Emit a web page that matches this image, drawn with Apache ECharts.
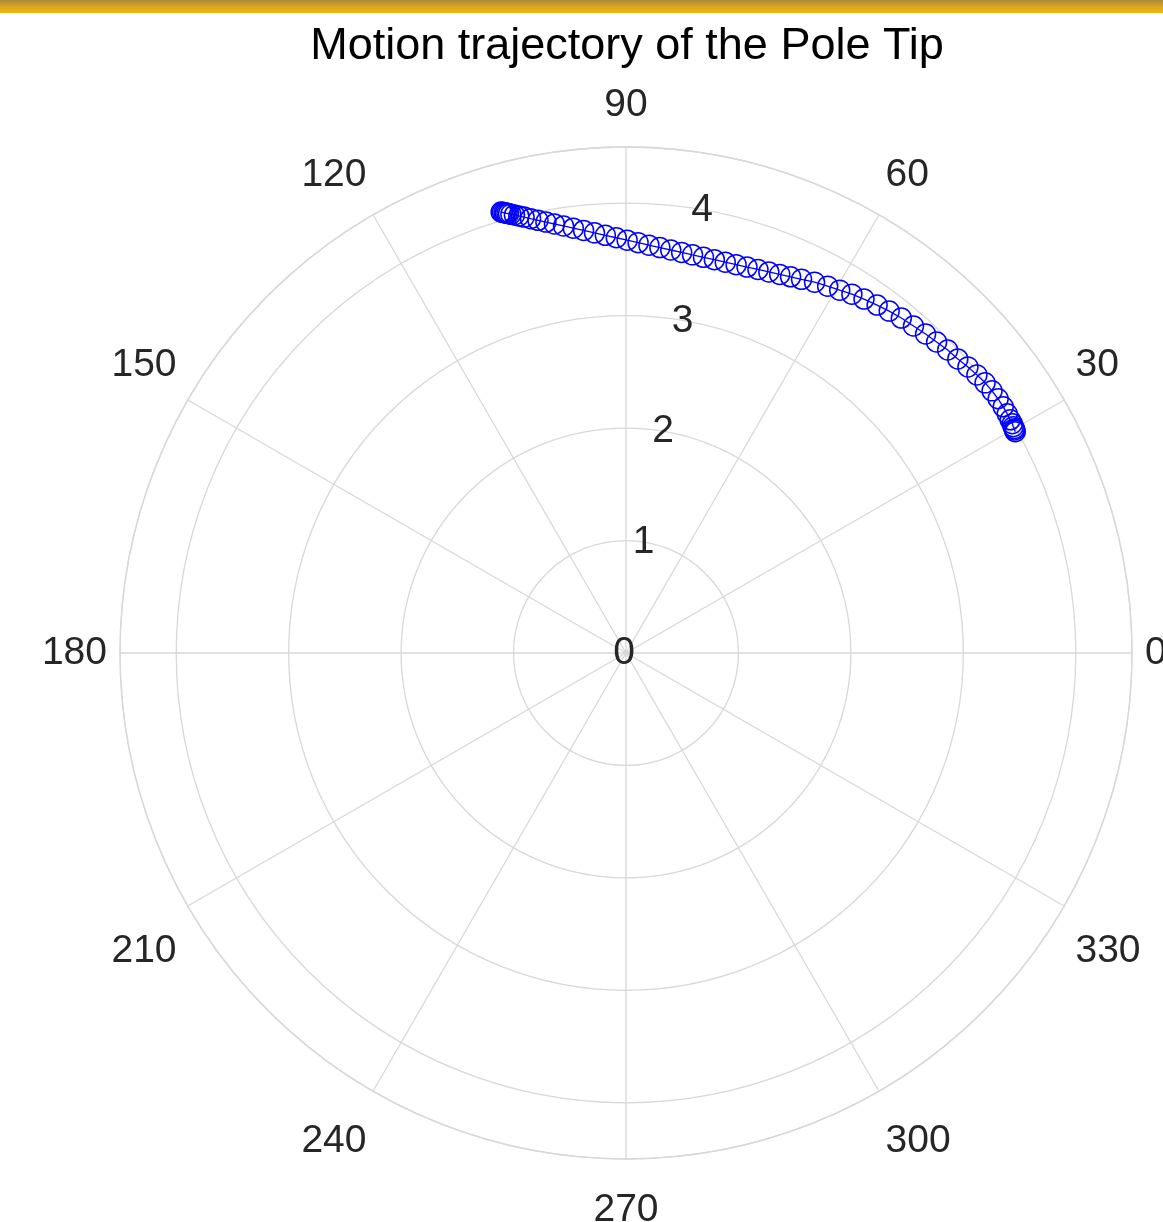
<!DOCTYPE html>
<html>
<head>
<meta charset="utf-8">
<title>Motion trajectory of the Pole Tip</title>
<script src="https://cdn.jsdelivr.net/npm/echarts@6/dist/echarts.min.js"></script>
<style>
  html, body { margin: 0; padding: 0; background: #ffffff; }
  #chart { width: 1163px; height: 1222px; }
</style>
</head>
<body>
<div id="chart"></div>
<script>
// Pole tip trajectory: polar angle (degrees) and radius of each sample
const trajAngle = [
  29.62, 29.85, 30.01, 30.30, 30.69, 31.26, 32.11, 33.13, 34.34, 35.61, 36.96,
  38.40, 39.92, 41.55, 43.29, 45.04, 46.80, 48.68, 50.58, 52.41, 54.18,
  56.08, 57.81, 59.50, 61.20, 63.05, 64.84, 66.37, 67.90, 69.45, 71.01,
  72.59, 74.17, 75.75, 77.34, 78.92, 80.51, 82.09, 83.66, 85.22, 86.78,
  88.31, 89.84, 91.34, 92.83, 94.29, 95.73, 97.07, 98.32, 99.47, 100.53,
  101.50, 102.39, 103.16, 103.78, 104.29, 104.70, 104.97, 105.14, 105.32,
  105.48, 105.66, 105.81
];
const trajRadius = [
  3.982, 3.985, 3.988, 3.989, 3.995, 3.997, 4.003, 4.006, 4.008, 4.004, 3.996,
  3.982, 3.965, 3.943, 3.930, 3.909, 3.892, 3.872, 3.856, 3.837, 3.816,
  3.793, 3.771, 3.745, 3.723, 3.700, 3.672, 3.652, 3.634, 3.619, 3.607,
  3.597, 3.590, 3.586, 3.585, 3.586, 3.590, 3.597, 3.606, 3.618, 3.633,
  3.651, 3.671, 3.694, 3.719, 3.747, 3.777, 3.807, 3.838, 3.868, 3.898,
  3.927, 3.955, 3.981, 4.002, 4.020, 4.035, 4.044, 4.051, 4.057,
  4.063, 4.070, 4.076
];

// Tick labels
const angleTicks = [0, 30, 60, 90, 120, 150, 180, 210, 240, 270, 300, 330];
const radiusTicks = [0, 1, 2, 3, 4];
const radiusMax = 4.5;

const titleText = 'Motion trajectory of the Pole Tip';

const gridColor = '#d8d8d8';
const tickColor = '#262626';
const fontFamily = '"Liberation Sans", Arial, Helvetica, sans-serif';

const chart = echarts.init(document.getElementById('chart'), null, { renderer: 'canvas' });

const center = [626, 653];
const radius = 506;

chart.setOption({
  animation: false,
  backgroundColor: '#ffffff',
  graphic: [{
    type: 'rect',
    left: 0, top: 0,
    shape: { width: 1163, height: 13 },
    style: {
      fill: new echarts.graphic.LinearGradient(0, 0, 0, 1, [
        { offset: 0, color: '#a98b3c' },
        { offset: 0.5, color: '#d8a622' },
        { offset: 1, color: '#f1b80d' }
      ])
    },
    silent: true
  }],
  title: {
    text: titleText,
    left: 622,
    top: 19,
    textAlign: 'center',
    textStyle: {
      fontFamily: fontFamily,
      fontSize: 45,
      fontWeight: 'normal',
      color: '#000000'
    }
  },
  polar: [
    { center: center, radius: radius },
    { center: center, radius: radius }
  ],
  angleAxis: [
    {
      polarIndex: 0,
      type: 'value',
      min: 0,
      max: 360,
      interval: 30,
      startAngle: 0,
      clockwise: false,
      axisLine: { show: true, lineStyle: { color: gridColor, width: 1.3 } },
      axisTick: { show: false },
      splitLine: { show: true, lineStyle: { color: gridColor, width: 1.3 } },
      axisLabel: {
        show: true,
        margin: 13,
        fontFamily: fontFamily,
        fontSize: 39,
        lineHeight: 39,
        padding: [19, 0, 9, 0],
        color: tickColor,
        formatter: function (v) {
          return angleTicks.indexOf(v) >= 0 ? String(v) : '';
        }
      }
    },
    {
      polarIndex: 1,
      type: 'value',
      min: 0,
      max: 360,
      startAngle: 80,
      clockwise: false,
      show: false
    }
  ],
  radiusAxis: [
    {
      polarIndex: 0,
      type: 'value',
      min: 0,
      max: radiusMax,
      interval: 1,
      axisLine: { show: false },
      axisTick: { show: false },
      axisLabel: { show: false },
      splitLine: { show: true, lineStyle: { color: gridColor, width: 1.3 } }
    },
    {
      polarIndex: 1,
      type: 'value',
      min: 0,
      max: radiusMax,
      interval: 1,
      axisLine: { show: false },
      axisTick: { show: false },
      splitLine: { show: false },
      axisLabel: {
        show: true,
        margin: 0,
        align: 'center',
        verticalAlign: 'middle',
        padding: [6, 4, 0, 0],
        fontFamily: fontFamily,
        fontSize: 39,
        color: tickColor,
        formatter: function (v) {
          return radiusTicks.indexOf(v) >= 0 ? String(v) : '';
        }
      }
    }
  ],
  series: [{
    type: 'line',
    coordinateSystem: 'polar',
    polarIndex: 0,
    data: trajRadius.map(function (r, i) { return [r, trajAngle[i]]; }),
    symbol: 'circle',
    symbolSize: 20,
    showSymbol: true,
    lineStyle: { color: '#0000ff', width: 1.3 },
    itemStyle: { color: 'rgba(0,0,0,0)', borderColor: '#0000ff', borderWidth: 1.5 },
    emphasis: { disabled: true },
    z: 5
  }]
});
</script>
</body>
</html>
